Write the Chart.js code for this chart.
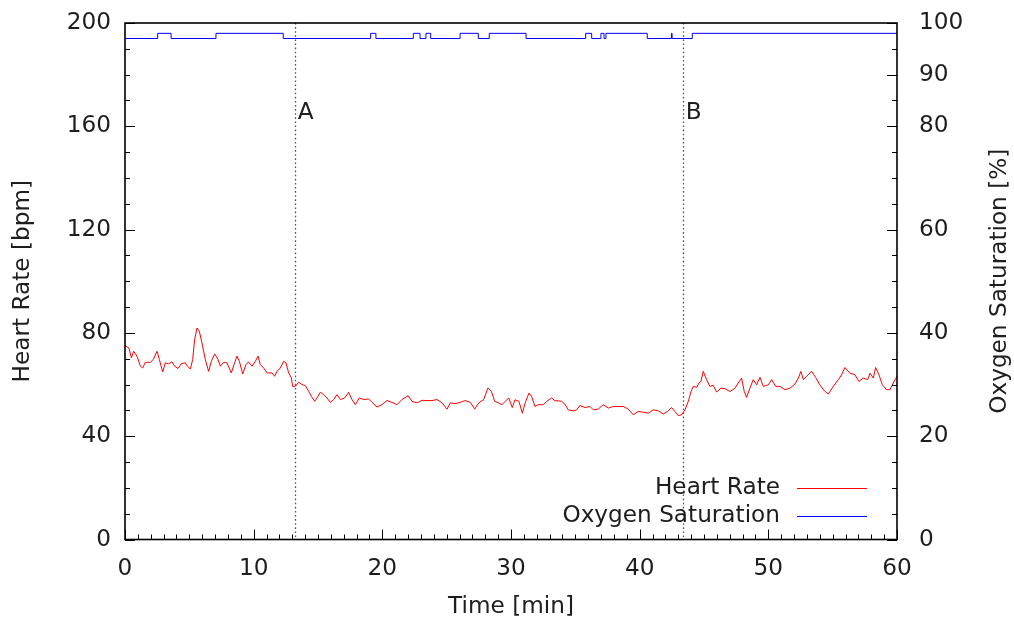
<!DOCTYPE html>
<html>
<head>
<meta charset="utf-8">
<script src="https://cdn.jsdelivr.net/npm/chart.js@4"></script>
<style>
  html, body { margin: 0; padding: 0; background: #fff; }
  #wrap { width: 1014px; height: 621px; }
</style>
</head>
<body>
<div id="wrap"><canvas id="chart" width="1014" height="621"></canvas></div>
<script>
// Heart rate trace: [time (min), bpm]
const heartRate = [
  [0,75.1],[0.3,74.2],[0.5,70.3],[0.67,72.9],[0.93,71],[1.2,67.1],[1.37,66.4],[1.58,68.6],[1.97,68.6],[2.2,69.7],
  [2.49,72.9],[2.67,69.7],[2.93,64.9],[3.13,68.4],[3.39,68],[3.65,68.8],[3.86,67.1],[4.12,66.2],[4.38,68.1],[4.69,68.4],
  [4.82,67.3],[5.08,66],[5.26,69.7],[5.41,77.4],[5.6,81.9],[5.78,80.6],[5.98,76.1],[6.24,69.7],[6.5,65.1],[6.71,69],
  [6.97,71.9],[7.23,69.7],[7.41,67.1],[7.67,68.6],[7.93,68.4],[8.26,64.5],[8.52,68.4],[8.7,71],[8.89,69],[9.15,64.1],
  [9.4,67.7],[9.6,68.8],[9.87,67.1],[10.13,69],[10.34,71],[10.52,67.7],[10.78,66.4],[11.04,64.5],[11.43,64.5],[11.63,63.2],
  [11.81,65.1],[12.07,66.4],[12.33,69],[12.51,68.4],[12.72,64.5],[12.93,62.6],[13.03,59.3],[13.24,59.3],[13.5,60.9],[13.76,60],
  [14.02,59.6],[14.27,57.4],[14.48,55.5],[14.74,53.5],[14.92,54.8],[15.18,57],[15.44,56.1],[15.7,54.8],[15.96,53.1],[16.22,54.2],
  [16.48,56.1],[16.74,54.2],[17.07,54.8],[17.38,57],[17.64,54.2],[17.9,52.2],[18.21,54.8],[18.55,54.2],[18.94,54.4],[19.2,53.1],
  [19.59,51.3],[19.97,52.2],[20.36,53.8],[20.75,53.1],[21.14,52.2],[21.53,54.2],[22,55.7],[22.31,53.5],[22.7,52.9],[23.08,53.9],
  [23.47,53.8],[23.86,53.8],[24.25,54.2],[24.64,52.9],[25.03,50.5],[25.28,52.9],[25.67,52.6],[26.06,53.1],[26.45,53.8],[26.84,53.1],
  [27.18,50.5],[27.49,52.9],[27.88,54.2],[28.21,58.7],[28.47,57.4],[28.73,53.5],[29.04,52.9],[29.3,52.2],[29.56,53.5],[29.82,54.8],
  [30.1,51.1],[30.31,54.1],[30.62,53.5],[30.88,48.9],[31.14,53.5],[31.4,56.7],[31.6,55.4],[31.86,51.5],[32.12,52.2],[32.51,52.2],
  [32.77,53.5],[33.16,54.8],[33.42,53.7],[33.68,53.7],[33.93,53.5],[34.19,52.4],[34.45,50.2],[34.84,49.8],[35.1,50.2],[35.36,51.9],
  [35.75,51.1],[36.14,51.5],[36.4,50.2],[36.78,50.5],[37.17,52.2],[37.56,50.9],[37.95,51.5],[38.34,51.5],[38.73,51.5],[39.11,50.5],
  [39.5,48.3],[39.89,49.6],[40.28,49.3],[40.67,48.9],[41.06,50.2],[41.45,49.8],[41.84,48.6],[42.22,49.8],[42.48,51.1],[42.74,49.6],
  [43,48],[43.26,48.3],[43.52,50.2],[43.78,53.5],[43.99,57.3],[44.17,59.3],[44.43,58.9],[44.61,60.6],[44.76,61.2],[44.94,65.1],
  [45.2,61.9],[45.46,59.3],[45.72,59.7],[45.98,57.1],[46.32,58.6],[46.63,58.4],[47.02,57.3],[47.41,58.6],[47.66,60.6],[47.92,62.5],
  [48.13,57.3],[48.31,55],[48.57,58.6],[48.83,61.9],[49.09,59.9],[49.35,62.8],[49.61,59.3],[50,59.9],[50.26,61.9],[50.57,59.3],
  [50.9,59.3],[51.29,58],[51.68,58.6],[52.07,60.2],[52.33,62.5],[52.53,65.1],[52.72,61.9],[52.98,63.2],[53.36,65.1],[53.67,62.8],
  [54,59.9],[54.35,57.6],[54.66,56.3],[55.05,59.3],[55.44,61.9],[55.7,63.8],[55.95,66.6],[56.34,64.4],[56.73,63.8],[57.04,61.2],
  [57.38,62.5],[57.72,61.9],[57.9,64.4],[58.16,62.5],[58.34,66.6],[58.6,63.8],[58.86,59.9],[59.19,58],[59.45,58],[59.71,60.6],
  [60,63.2]
];

// Oxygen saturation: [time (min) where the reading changes, % from then on]
const oxygenSaturation = [
  [0,97],[2.54,98],[3.58,97],[7.07,98],[12.3,97],[19.09,98],[19.5,97],[22.41,98],[22.93,97],[23.39,98],
  [23.76,97],[26.04,98],[27.46,97],[28.31,98],[31.17,97],[35.8,98],[36.27,97],[36.99,98],[37.23,97],[37.38,98],
  [40.59,97],[42.47,98],[42.52,97],[44.09,98],[60,98]
];

// Tick labels
const timeTicks = [0, 10, 20, 30, 40, 50, 60];
const heartRateTicks = [0, 40, 80, 120, 160, 200];
const saturationTicks = [0, 20, 40, 60, 80, 90, 100];

// Event markers
const eventNames = ['A', 'B'];
const eventTimes = [13.2, 43.35];

const FONT = '"DejaVu Sans", Verdana, sans-serif';
const FONT_SIZE = 23.2;
const TEXT = '#1e1e1e';

function fixedTicks(values) {
  return scale => { scale.ticks = values.map(v => ({ value: v })); };
}

// Fixed axis band sizes; no extra room for overhanging tick labels
function fixedSize(prop, size) {
  return scale => {
    scale[prop] = size;
    scale.paddingTop = 0;
    scale.paddingBottom = 0;
    scale.paddingLeft = 0;
    scale.paddingRight = 0;
  };
}

// Gnuplot-like frame: border, inward ticks, dotted event lines, titles, legend
const framePlugin = {
  id: 'frame',
  beforeDatasetsDraw(chart) {
    const { ctx, chartArea: a, scales } = chart;
    ctx.save();
    ctx.strokeStyle = '#555';
    ctx.lineWidth = 1.3;
    ctx.setLineDash([1.6, 2.5]);
    eventTimes.forEach(t => {
      const x = Math.round(scales.x.getPixelForValue(t)) + 0.5;
      ctx.beginPath();
      ctx.moveTo(x, a.top);
      ctx.lineTo(x, a.bottom);
      ctx.stroke();
    });
    ctx.restore();
  },
  afterDatasetsDraw(chart) {
    const { ctx, chartArea: a, scales } = chart;
    ctx.save();
    ctx.strokeStyle = '#000';
    ctx.lineWidth = 1;
    ctx.beginPath();
    // bottom axis: minor every minute, major every 10
    for (let t = 0; t <= 60; t += 1) {
      const x = Math.round(scales.x.getPixelForValue(t)) + 0.5;
      const len = t % 10 === 0 ? 10 : 5;
      ctx.moveTo(x, a.bottom);
      ctx.lineTo(x, a.bottom - len);
    }
    // left axis: minor every 10 bpm, major every 40
    for (let v = 0; v <= 200; v += 10) {
      const y = Math.round(scales.y.getPixelForValue(v)) + 0.5;
      const len = v % 40 === 0 ? 10 : 5;
      ctx.moveTo(a.left, y);
      ctx.lineTo(a.left + len, y);
    }
    // right axis: minor every 5 %, major at labelled values
    for (let v = 0; v <= 100; v += 5) {
      const y = Math.round(scales.y2.getPixelForValue(v)) + 0.5;
      const len = saturationTicks.includes(v) ? 10 : 5;
      ctx.moveTo(a.right, y);
      ctx.lineTo(a.right - len, y);
    }
    ctx.stroke();
    ctx.lineWidth = 1.6;
    ctx.strokeRect(a.left, a.top, a.right - a.left, a.bottom - a.top);
    ctx.restore();
  },
  afterDraw(chart) {
    const { ctx, chartArea: a, scales } = chart;
    ctx.save();
    ctx.fillStyle = TEXT;
    ctx.font = `${FONT_SIZE}px ${FONT}`;
    const midY = (a.top + a.bottom) / 2;

    // axis titles
    ctx.textAlign = 'center';
    ctx.textBaseline = 'middle';
    ctx.fillText('Time [min]', (a.left + a.right) / 2, 607);
    ctx.save();
    ctx.translate(23, midY);
    ctx.rotate(-Math.PI / 2);
    ctx.fillText('Heart Rate [bpm]', 0, 0);
    ctx.restore();
    ctx.save();
    ctx.translate(1000, midY);
    ctx.rotate(-Math.PI / 2);
    ctx.fillText('Oxygen Saturation [%]', 0, 0);
    ctx.restore();

    // event labels
    ctx.textAlign = 'left';
    eventNames.forEach((name, i) => {
      const x = scales.x.getPixelForValue(eventTimes[i]) + 3;
      const y = scales.y.getPixelForValue(165);
      ctx.fillText(name, x, y);
    });

    // legend (text right-aligned, sample line to the right)
    const entries = chart.data.datasets;
    ctx.textAlign = 'right';
    entries.forEach((ds, i) => {
      const y = 488 + i * 28;
      ctx.fillStyle = TEXT;
      ctx.fillText(ds.label, 780, y);
      ctx.strokeStyle = ds.borderColor;
      ctx.lineWidth = 1;
      ctx.beginPath();
      ctx.moveTo(797, y + 0.5);
      ctx.lineTo(867, y + 0.5);
      ctx.stroke();
    });
    ctx.restore();
  }
};

new Chart(document.getElementById('chart'), {
  type: 'line',
  data: {
    datasets: [
      {
        label: 'Heart Rate',
        data: heartRate.map(([x, y]) => ({ x, y })),
        yAxisID: 'y',
        borderColor: '#ff0000',
        borderWidth: 1,
        pointRadius: 0,
        tension: 0
      },
      {
        label: 'Oxygen Saturation',
        data: oxygenSaturation.map(([x, y]) => ({ x, y })),
        yAxisID: 'y2',
        borderColor: '#0000ff',
        borderWidth: 1,
        pointRadius: 0,
        stepped: 'before'
      }
    ]
  },
  options: {
    responsive: false,
    animation: false,
    events: [],
    layout: { padding: { top: 23, left: 0, right: 0, bottom: 0 } },
    plugins: { legend: { display: false }, tooltip: { enabled: false } },
    scales: {
      x: {
        type: 'linear', position: 'bottom', min: 0, max: 60,
        afterBuildTicks: fixedTicks(timeTicks),
        afterFit: fixedSize('height', 81.5),
        ticks: { font: { family: FONT, size: FONT_SIZE }, color: TEXT, padding: 16, maxRotation: 0, autoSkip: false },
        grid: { display: false, drawTicks: false },
        border: { display: false }
      },
      y: {
        type: 'linear', position: 'left', min: 0, max: 200,
        afterBuildTicks: fixedTicks(heartRateTicks),
        afterFit: fixedSize('width', 125),
        ticks: { font: { family: FONT, size: FONT_SIZE }, color: TEXT, padding: 14 },
        grid: { display: false, drawTicks: false },
        border: { display: false }
      },
      y2: {
        type: 'linear', position: 'right', min: 0, max: 100,
        afterBuildTicks: fixedTicks(saturationTicks),
        afterFit: fixedSize('width', 117),
        ticks: { font: { family: FONT, size: FONT_SIZE }, color: TEXT, padding: 22 },
        grid: { display: false, drawTicks: false },
        border: { display: false }
      }
    }
  },
  plugins: [framePlugin]
});
</script>
</body>
</html>
